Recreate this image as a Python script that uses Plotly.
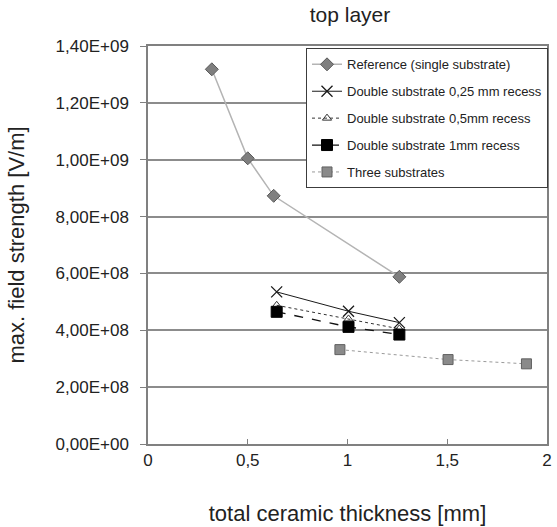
import plotly.graph_objects as go

# Data
ref_x = [0.32, 0.50, 0.63, 1.26]
ref_y = [1.318e9, 1.005e9, 8.73e8, 5.88e8]

d025_x = [0.645, 1.005, 1.26]
d025_y = [5.35e8, 4.67e8, 4.27e8]

d05_x = [0.645, 1.005, 1.26]
d05_y = [4.88e8, 4.40e8, 4.05e8]

d1_x = [0.645, 1.005, 1.26]
d1_y = [4.65e8, 4.12e8, 3.85e8]

three_x = [0.962, 1.504, 1.897]
three_y = [3.32e8, 2.97e8, 2.82e8]

y_tickvals = [0, 2e8, 4e8, 6e8, 8e8, 1.0e9, 1.2e9, 1.4e9]
y_ticktext = ["0,00E+00", "2,00E+08", "4,00E+08", "6,00E+08", "8,00E+08",
              "1,00E+09", "1,20E+09", "1,40E+09"]
x_tickvals = [0, 0.5, 1, 1.5, 2]
x_ticktext = ["0", "0,5", "1", "1,5", "2"]

FONT = "Arial, Liberation Sans, sans-serif"

fig = go.Figure()
fig.add_trace(go.Scatter(
    x=ref_x, y=ref_y, name="Reference (single substrate)", mode="lines+markers",
    line=dict(color="#b4b4b4", width=1.5),
    marker=dict(symbol="diamond", size=10, color="#7f7f7f", line=dict(color="#5a5a5a", width=1)),
    legendgroup="a"))
fig.add_trace(go.Scatter(
    x=d025_x, y=d025_y, name="Double substrate 0,25 mm recess", mode="lines+markers",
    line=dict(color="#1a1a1a", width=1),
    marker=dict(symbol="x-thin", size=11, color="#1a1a1a", line=dict(color="#1a1a1a", width=1.3)),
    legendgroup="b"))
fig.add_trace(go.Scatter(
    x=d05_x, y=d05_y, name="Double substrate 0,5mm recess", mode="lines+markers",
    line=dict(color="#333333", width=1, dash="dot"),
    marker=dict(symbol="triangle-up-open", size=8, color="#333333", line=dict(width=1)),
    legendgroup="c"))
fig.add_trace(go.Scatter(
    x=d1_x, y=d1_y, name="Double substrate 1mm recess", mode="lines+markers",
    line=dict(color="#111111", width=1.3, dash="dash"),
    marker=dict(symbol="square", size=11, color="#000000", line=dict(color="#000000", width=1)),
    legendgroup="d"))
fig.add_trace(go.Scatter(
    x=three_x, y=three_y, name="Three substrates", mode="lines+markers",
    line=dict(color="#9a9a9a", width=1, dash="dot"),
    marker=dict(symbol="square", size=10, color="#8a8a8a", line=dict(color="#606060", width=1)),
    legendgroup="e"))

fig.update_layout(
    width=557, height=527,
    margin=dict(l=148, r=5, t=46, b=81),
    paper_bgcolor="white", plot_bgcolor="white",
    font=dict(family=FONT, color="#222222", size=16),
    title=dict(text="top layer", x=(148 + 552) / 2 / 557, xanchor="center",
               y=1 - 15 / 527, yanchor="middle", yref="container",
               font=dict(size=21, family=FONT, color="#222222")),
    showlegend=True,
    legend=dict(x=0.396, y=0.994, xanchor="left", yanchor="top",
                bgcolor="white", bordercolor="#3c3c3c", borderwidth=1,
                font=dict(size=13, family=FONT, color="#222222"),
                tracegroupgap=7, traceorder="grouped", itemwidth=30),
    xaxis=dict(range=[0, 2], tickvals=x_tickvals, ticktext=x_ticktext,
               showgrid=False, zeroline=False,
               showline=True, linecolor="#808080", linewidth=1.5, mirror=True,
               ticks="inside", ticklen=5, tickcolor="#808080",
               tickfont=dict(size=17, family=FONT, color="#222222"),
               title=dict(text="total ceramic thickness [mm]", standoff=36,
                          font=dict(size=22, family=FONT, color="#222222"))),
    yaxis=dict(range=[0, 1.4e9], tickvals=y_tickvals, ticktext=y_ticktext,
               showgrid=True, gridcolor="#8c8c8c", gridwidth=2, zeroline=False,
               showline=True, linecolor="#808080", linewidth=1.5, mirror=True,
               ticks="outside", ticklen=6, tickcolor="#808080",
               ticklabelstandoff=8,
               tickfont=dict(size=17, family=FONT, color="#222222"),
               title=dict(text="max. field strength [V/m]", standoff=25,
                          font=dict(size=22, family=FONT, color="#222222"))),
)

fig.write_html("out.html")
